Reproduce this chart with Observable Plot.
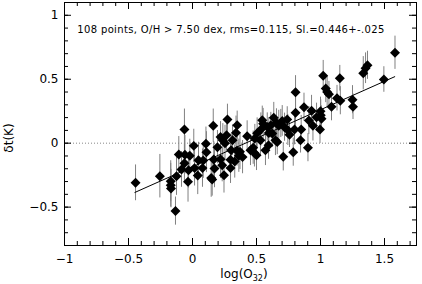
<!DOCTYPE html>
<html><head><meta charset="utf-8">
<script src="https://cdn.jsdelivr.net/npm/d3@7"></script>
<script src="https://cdn.jsdelivr.net/npm/@observablehq/plot@0.6"></script>
<style>body{margin:0;background:#fff}</style>
</head><body><div id="chart"></div>
<script>
// log(O32) values
const o32 = [-0.445,-0.255,-0.170,-0.170,-0.168,-0.133,-0.125,-0.063,-0.107,-0.059,
 -0.021,-0.063,-0.086,-0.035,0.010,0.016,0.041,0.078,0.084,0.109,
 0.105,0.146,0.162,0.166,0.172,0.154,0.219,0.237,0.254,0.219,
 0.232,0.246,0.273,0.302,0.297,0.297,0.340,0.349,0.348,0.371,
 0.362,0.427,0.474,0.484,0.500,0.505,0.330,0.545,0.552,0.534,
 0.570,0.584,0.596,0.612,0.635,0.623,0.648,0.662,0.656,0.701,
 0.709,0.740,0.745,0.690,0.758,0.787,0.805,0.805,0.871,0.930,
 0.909,0.941,0.844,0.902,0.797,0.849,1.000,1.002,1.008,0.996,
 1.021,1.041,1.052,1.066,1.086,1.129,1.155,1.151,1.250,1.254,
 1.334,1.352,1.367,1.495,1.582,0.674,0.266,0.487,0.195,0.313,
 0.453,0.594,0.719,0.047,-0.031,0.969,0.531,0.391];
// delta t(K) values
const dt = [-0.310,-0.258,-0.297,-0.328,-0.355,-0.531,-0.258,0.107,-0.088,-0.090,
 -0.099,-0.156,-0.205,-0.301,-0.021,-0.195,-0.252,-0.195,-0.135,-0.070,
 -0.004,-0.273,0.137,-0.127,-0.198,-0.284,0.049,0.023,0.000,-0.125,
 -0.172,-0.250,0.185,-0.055,-0.129,-0.195,0.082,0.141,-0.059,-0.066,
 -0.098,0.055,-0.035,-0.076,-0.094,0.078,-0.143,0.180,0.152,0.107,
 -0.055,0.127,0.080,0.141,0.199,0.076,0.023,0.010,0.159,0.174,
 -0.107,0.185,0.102,0.154,0.066,-0.070,0.398,0.238,0.281,0.254,
 0.177,0.137,0.023,-0.035,0.107,0.107,0.250,0.219,0.191,0.107,
 0.527,0.427,0.401,0.383,0.285,0.352,0.332,0.508,0.340,0.285,
 0.547,0.586,0.609,0.498,0.707,0.137,0.063,0.037,-0.031,0.023,
 -0.055,-0.016,0.125,-0.133,-0.211,0.203,0.023,-0.109];
// error bar half-lengths
const err = [0.14,0.17,0.16,0.17,0.15,0.11,0.15,0.16,0.14,0.15,
 0.13,0.15,0.14,0.16,0.13,0.14,0.15,0.15,0.14,0.16,
 0.13,0.15,0.13,0.14,0.15,0.13,0.12,0.13,0.14,0.15,
 0.13,0.14,0.12,0.13,0.14,0.12,0.13,0.11,0.12,0.14,
 0.13,0.12,0.13,0.11,0.12,0.12,0.13,0.11,0.12,0.13,
 0.12,0.11,0.12,0.10,0.12,0.11,0.12,0.10,0.11,0.12,
 0.11,0.10,0.12,0.11,0.10,0.11,0.13,0.12,0.11,0.12,
 0.11,0.12,0.10,0.11,0.12,0.11,0.11,0.12,0.10,0.11,
 0.12,0.11,0.12,0.10,0.11,0.10,0.11,0.10,0.11,0.10,
 0.13,0.12,0.11,0.10,0.13,0.12,0.12,0.11,0.13,0.12,
 0.12,0.11,0.11,0.14,0.14,0.11,0.12,0.13];
const fitX = [-0.45, 1.58];
const fitY = [-0.385, 0.52];
const xMajor = [-1,-0.5,0,0.5,1,1.5];
const xMinor = d3.range(-10,18).map(d=>d/10);
const yMajor = [-0.5,0,0.5,1];
const yMinor = d3.range(-8,12).map(d=>d/10);
const label = "108 points, O/H > 7.50 dex, rms=0.115, Sl.=0.446+-.025";

const pts = o32.map((x,i)=>({x, y: dt[i], e: err[i]}));
const fit = fitX.map((x,i)=>({x, y: fitY[i]}));
const W=422,H=284, mL=64, mR=6, mT=2, mB=39;
const plotH = H-mT-mB, plotW = W-mL-mR;
const fmt = d => (d<0?"\u2212":"")+Math.abs(d);
const FONT = "DejaVu Sans";
const chart = Plot.plot({
  width: W, height: H, marginLeft: mL, marginRight: mR, marginTop: mT, marginBottom: mB,
  style: {fontFamily: FONT, fontSize: "11px", background:"#fff", color:"#000"},
  x: {domain: [-1, 1.75]},
  y: {domain: [-0.8, 1.1]},
  marks: [
    Plot.ruleY([0], {stroke:"#888", strokeDasharray:"1,2"}),
    Plot.ruleX(pts, {x:"x", y1: d=>d.y-d.e, y2: d=>d.y+d.e, stroke:"#808080", strokeWidth:1}),
    Plot.line(fit, {x:"x", y:"y", stroke:"#000", strokeWidth:1}),
    Plot.dot(pts, {x:"x", y:"y", symbol:"diamond2", r: 4.5, fill:"#000", stroke:"none"}),
    Plot.tickX(xMinor, {x: d=>d, insetTop: plotH-4, stroke:"#000"}),
    Plot.tickX(xMinor, {x: d=>d, insetBottom: plotH-4, stroke:"#000"}),
    Plot.tickX(xMajor, {x: d=>d, insetTop: plotH-7, stroke:"#000"}),
    Plot.tickX(xMajor, {x: d=>d, insetBottom: plotH-7, stroke:"#000"}),
    Plot.tickY(yMinor, {y: d=>d, insetRight: plotW-4, stroke:"#000"}),
    Plot.tickY(yMinor, {y: d=>d, insetLeft: plotW-4, stroke:"#000"}),
    Plot.tickY(yMajor, {y: d=>d, insetRight: plotW-7, stroke:"#000"}),
    Plot.tickY(yMajor, {y: d=>d, insetLeft: plotW-7, stroke:"#000"}),
    Plot.axisX({ticks: xMajor, tickSize: 0, tickPadding: 9, tickFormat: fmt, label: null, fontSize: 12}),
    Plot.axisY({ticks: yMajor, tickSize: 0, tickPadding: 6, tickFormat: fmt, label: null, fontSize: 12}),
    Plot.frame({stroke:"#000"}),
    Plot.text([label], {x: -0.9, y: 0.89, text: d=>d, textAnchor:"start", fontSize: 10, className: "note"})
  ]
});
document.getElementById("chart").appendChild(chart);
const svg = d3.select(chart);
svg.select("g.note text").attr("textLength", 307).attr("lengthAdjust", "spacing");
const xl = svg.append("text").attr("x", 244).attr("y", 278).attr("text-anchor","middle")
  .attr("font-size", 12).attr("font-family", FONT).attr("fill","#000");
xl.append("tspan").text("log(O");
xl.append("tspan").attr("font-size", 8).attr("dy", 3).text("32");
xl.append("tspan").attr("dy", -3).text(")");
svg.append("text").attr("transform","translate(13,138) rotate(-90)").attr("text-anchor","middle")
  .attr("font-size", 12).attr("font-family", FONT).attr("fill","#000").text("\u03b4t(K)");
</script></body></html>
